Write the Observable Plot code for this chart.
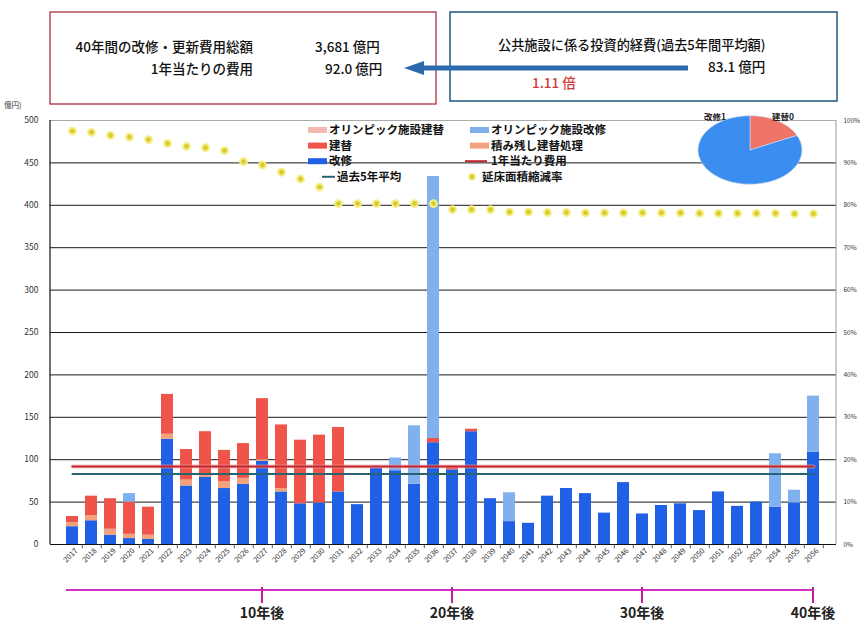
<!DOCTYPE html>
<html><head><meta charset="utf-8">
<script src="https://cdn.jsdelivr.net/npm/d3@7"></script>
<script src="https://cdn.jsdelivr.net/npm/@observablehq/plot@0.6"></script>
<style>
body{margin:0;background:#fff;font-family:"Noto Sans CJK JP","Noto Sans",sans-serif;}
#wrap{position:relative;width:860px;height:624px;}
</style></head><body><div id="wrap"></div>
<script>
const years = ["2017","2018","2019","2020","2021","2022","2023","2024","2025","2026",
"2027","2028","2029","2030","2031","2032","2033","2034","2035","2036",
"2037","2038","2039","2040","2041","2042","2043","2044","2045","2046",
"2047","2048","2049","2050","2051","2052","2053","2054","2055","2056"];
// 改修
const kaishu = [21,28,11,7,6,124,69,79,66,71,98,62,48,49,62,47,90,87,71,120,88,133,54,27,25,57,66,60,37,73,36,46,48,40,62,45,50,44,49,109];
// 積み残し建替処理
const tsumi = [5,6,7,5,5,6,7,3,8,7,2,4,0,0,0,0,0,0,0,0,0,0,0,0,0,0,0,0,0,0,0,0,0,0,0,0,0,0,0,0];
// 建替
const tatekae = [7,23,36,38,33,47,36,51,37,41,72,75,75,80,76,0,0,0,0,5,3,3,0,0,0,0,0,0,0,0,0,0,0,0,0,0,0,0,0,0];
// オリンピック施設建替
const olyTatekae = [0,0,0,0,0,0,0,0,0,0,0,0,0,0,0,0,0,0,0,0,0,0,0,0,0,0,0,0,0,0,0,0,0,0,0,0,0,0,0,0];
// オリンピック施設改修
const olyKaishu = [0,0,0,10,0,0,0,0,0,0,0,0,0,0,0,0,0,15,69,309,0,0,0,34,0,0,0,0,0,0,0,0,0,0,0,0,0,63,15,66];
// 延床面積縮減率 (%)
const rate = [97.5,97.2,96.5,96.1,95.5,94.6,93.9,93.6,92.9,90.3,89.5,87.8,86.2,84.3,80.4,80.4,80.4,80.4,80.4,80.4,
79.0,79.0,79.0,78.4,78.4,78.3,78.3,78.2,78.2,78.2,78.2,78.2,78.2,78.1,78.1,78.1,78.1,78.1,78.0,78.0];
const annualCost = 92.0;   // 1年当たり費用
const pastAvg = 83.1;      // 過去5年平均
const seriesNames = ["改修","積み残し建替処理","建替","オリンピック施設建替","オリンピック施設改修"];
const seriesColors = ["#1f60e4","#f3a27e","#ee5449","#f3b8b2","#80b1ee"];
const yTicks = [0,50,100,150,200,250,300,350,400,450,500];
const gridVals = [50,100,150,200,250,300,350,400,450];
const pieLabels = ["建替","改修"];
const pieValues = [18,82];
const pieTexts = ["建替0","改修1"];
const timelineYears = ["2027","2037","2047","2056"];
const timelineLabels = ["10年後","20年後","30年後","40年後"];

const seriesArrays = [kaishu,tsumi,tatekae,olyTatekae,olyKaishu];
const rows = [];
years.forEach((yr,i)=>seriesArrays.forEach((arr,k)=>rows.push({year:yr, series:seriesNames[k], value:arr[i]})));
const rateRows = years.map((yr,i)=>({year:yr, rate:rate[i]}));

const FONT = '"Noto Sans CJK JP","Noto Sans",sans-serif';
const plot = Plot.plot({
  width:860, height:624, marginTop:120, marginBottom:80, marginLeft:50, marginRight:24,
  style:{fontFamily:FONT, background:"transparent", overflow:"visible"},
  x:{type:"band", domain:years, paddingInner:0.36, paddingOuter:0.18},
  y:{domain:[0,500]},
  color:{domain:seriesNames, range:seriesColors},
  marks:[
    Plot.ruleY(gridVals, {stroke:"#1a1a1a", strokeWidth:1}),
    Plot.ruleY([500], {stroke:"#aaa", strokeWidth:1}),
    Plot.barY(rows, {x:"year", y:"value", fill:"series", order:seriesNames}),
    Plot.lineY(years, {x:d=>d, y:()=>annualCost, stroke:"#f4a0a0", strokeWidth:4, strokeOpacity:0.6}),
    Plot.lineY(years, {x:d=>d, y:()=>annualCost, stroke:"#c0262c", strokeWidth:2}),
    Plot.lineY(years, {x:d=>d, y:()=>pastAvg, stroke:"#27646f", strokeWidth:2}),
    Plot.dot(rateRows, {x:"year", y:d=>d.rate*5, r:3.4, fill:"#d9cb2e", stroke:"#f4ee86", strokeWidth:2}),
    Plot.ruleY([0], {stroke:"#111", strokeWidth:1.2}),
    Plot.ruleX(years, {x:d=>d, y1:0, y2:-5, dx:9.8, stroke:"#333", strokeWidth:0.8}),
    Plot.axisY({anchor:"left", ticks:yTicks, tickSize:0, tickPadding:12, fontSize:8.5, label:null, fill:"#333"}),
    Plot.axisY({anchor:"right", ticks:yTicks, tickFormat:d=>(d/5)+"%", tickSize:0, tickPadding:7, fontSize:6.5, label:null, fill:"#333"}),
    Plot.axisX({tickRotate:-45, tickSize:0, tickPadding:5, dx:4, fontSize:7.5, label:null, fill:"#333"})
  ]
});
document.getElementById("wrap").appendChild(plot);

const svg = d3.select(plot);
const xs = plot.scale("x");
const ys = plot.scale("y");
const bw = xs.bandwidth;
const cx = yr => xs.apply(yr) + bw/2;
const yTop = ys.apply(500), y0 = ys.apply(0);
// frame lines
svg.append("line").attr("x1",50).attr("x2",50).attr("y1",yTop).attr("y2",y0).attr("stroke","#111").attr("stroke-width",1.2);
svg.append("line").attr("x1",836).attr("x2",836).attr("y1",yTop).attr("y2",y0).attr("stroke","#999").attr("stroke-width",1);

// y unit
svg.append("text").attr("x",4).attr("y",108).attr("text-anchor","start").attr("font-size",7.5).attr("font-family",FONT).attr("fill","#333").text("億円)");

// legend
const lg = svg.append("g").attr("font-family",FONT).attr("font-size",11.5).attr("font-weight",700).attr("fill","#111").attr("text-anchor","start");
const legendItems = [
  {t:"rect",c:seriesColors[3],l:"オリンピック施設建替",col:0,row:0},
  {t:"rect",c:seriesColors[4],l:"オリンピック施設改修",col:1,row:0},
  {t:"rect",c:seriesColors[2],l:"建替",col:0,row:1},
  {t:"rect",c:seriesColors[1],l:"積み残し建替処理",col:1,row:1},
  {t:"rect",c:seriesColors[0],l:"改修",col:0,row:2},
  {t:"line",c:"#c0262c",l:"1年当たり費用",col:1,row:2},
  {t:"line",c:"#27646f",l:"過去5年平均",col:0,row:3},
  {t:"dot",c:"#d9cb2e",l:"延床面積縮減率",col:1,row:3}
];
const colX = [308,470];
legendItems.forEach(it=>{
  const x = colX[it.col], y = 130 + it.row*15.6;
  let tx = x + 21;
  if(it.t==="rect") lg.append("rect").attr("x",x).attr("y",y-3).attr("width",19).attr("height",6).attr("fill",it.c);
  else if(it.t==="line"){
    if(it.col===0){ lg.append("line").attr("x1",x+14).attr("x2",x+27).attr("y1",y).attr("y2",y).attr("stroke",it.c).attr("stroke-width",2); tx = x+29; }
    else { lg.append("line").attr("x1",x-5).attr("x2",x+17).attr("y1",y).attr("y2",y).attr("stroke",it.c).attr("stroke-width",2); }
  } else { lg.append("circle").attr("cx",x+2).attr("cy",y).attr("r",3).attr("fill",it.c).attr("stroke","#f4ee86").attr("stroke-width",1.5); tx = x+12; }
  lg.append("text").attr("x",tx).attr("y",y).attr("dy","0.36em").text(it.l);
});

// pie
const pie = d3.pie().sort(null)(pieValues);
const arc = d3.arc().innerRadius(0).outerRadius(52);
const pg = svg.append("g").attr("transform","translate(750,150) scale(1,0.66)");
pg.selectAll("path").data(pie).join("path").attr("d",arc).attr("fill",(d,i)=>i===0?"#f07367":"#3b8df0").attr("stroke","#c9d9ef").attr("stroke-width",0.8);
const pt = svg.append("g").attr("font-family",FONT).attr("font-size",8.5).attr("font-weight",700).attr("fill","#222").attr("text-anchor","start");
pt.append("text").attr("x",772).attr("y",120).text(pieTexts[0]);
pt.append("text").attr("x",704).attr("y",120).text(pieTexts[1]);

// top boxes
const tb = svg.append("g").attr("font-family",FONT).attr("fill","#111");
tb.append("rect").attr("x",50).attr("y",12).attr("width",386).attr("height",92).attr("fill","none").attr("stroke","#a83240").attr("stroke-width",1.3);
tb.append("rect").attr("x",450).attr("y",12).attr("width",387).attr("height",89).attr("fill","none").attr("stroke","#2d5f86").attr("stroke-width",1.6);
const t = (x,y,s,anchor,opts={})=>tb.append("text").attr("x",x).attr("y",y).attr("text-anchor",anchor).attr("font-size",opts.fs||13.5).attr("font-weight",opts.fw||500).attr("fill",opts.fill||"#111").text(s);
t(253,52,"40年間の改修・更新費用総額","end");
t(315,52,"3,681 億円","start");
t(253,74,"1年当たりの費用","end");
t(325,74,"92.0 億円","start");
t(498,50,"公共施設に係る投資的経費(過去5年間平均額)","start",{fs:13.2});
t(708,72,"83.1 億円","start");
t(532,88,"1.11 倍","start",{fill:"#d23a3a"});
tb.append("line").attr("x1",688).attr("x2",418).attr("y1",68).attr("y2",68).attr("stroke","#2a6aad").attr("stroke-width",5);
tb.append("path").attr("d","M404,68 L424,61 L424,75 Z").attr("fill","#2a6aad");

// timeline
const tl = svg.append("g").attr("font-family",FONT);
const tlY = 590;
tl.append("line").attr("x1",xs.apply(years[0])).attr("x2",cx(timelineYears[3])).attr("y1",tlY).attr("y2",tlY).attr("stroke","#d62fc6").attr("stroke-width",2);
timelineYears.forEach((yr,i)=>{
  tl.append("line").attr("x1",cx(yr)).attr("x2",cx(yr)).attr("y1",tlY-3).attr("y2",tlY+13).attr("stroke","#c0209f").attr("stroke-width",2);
  tl.append("text").attr("x",cx(yr)).attr("y",618).attr("text-anchor","middle").attr("font-size",14).attr("font-weight",700).attr("fill","#222").text(timelineLabels[i]);
});
</script></body></html>
